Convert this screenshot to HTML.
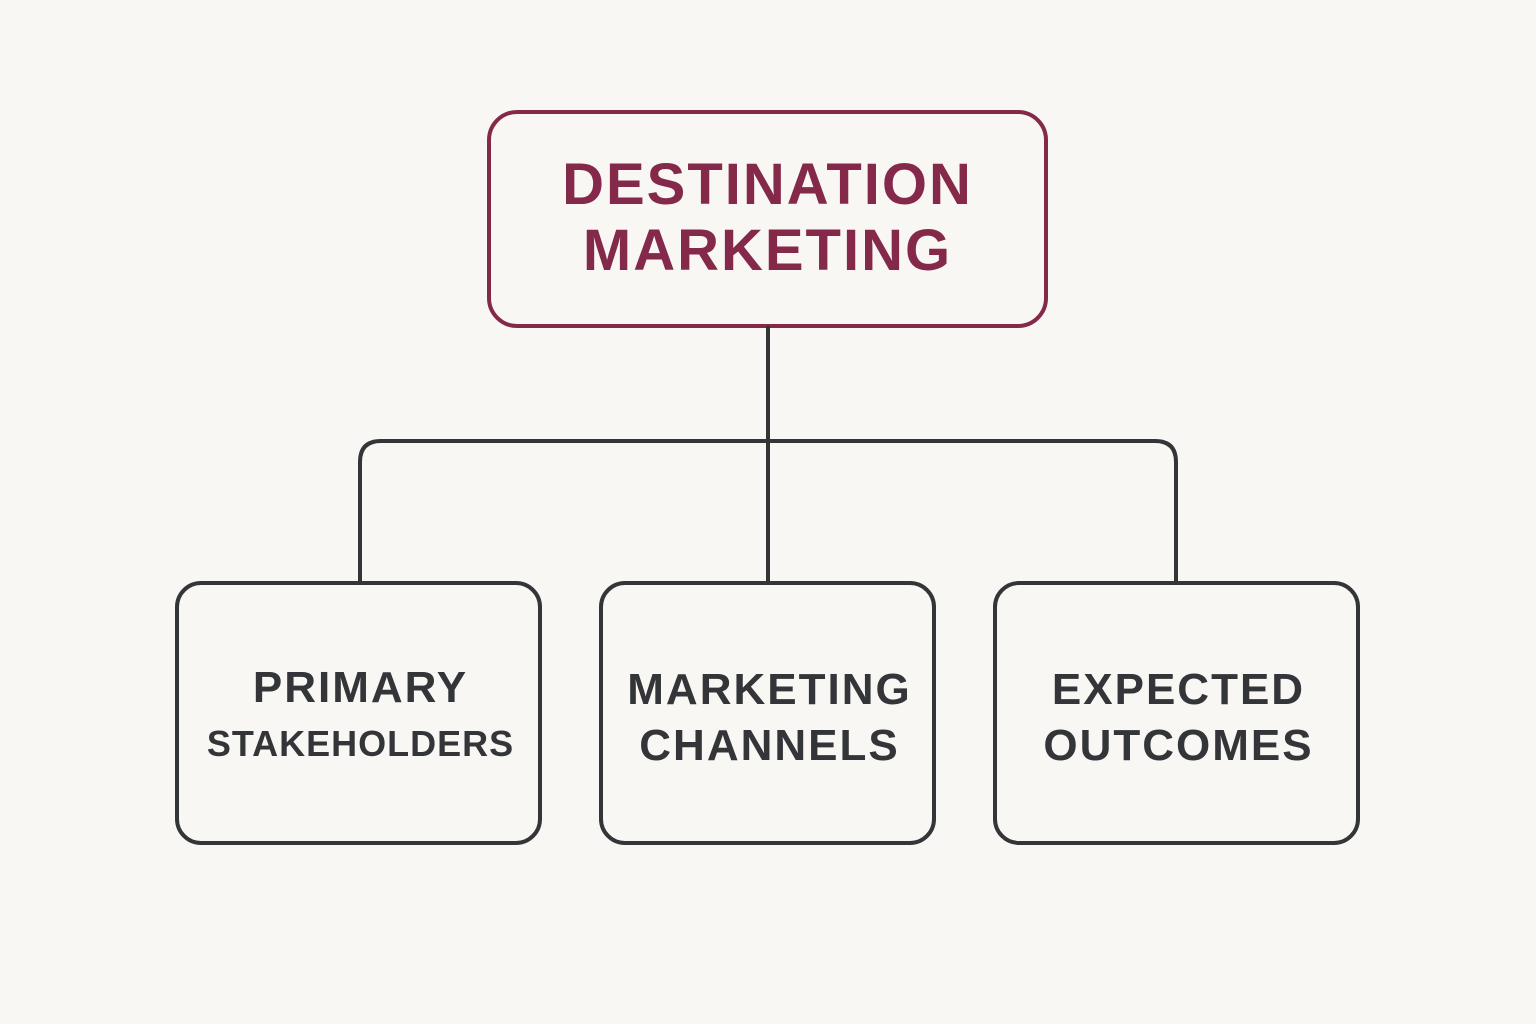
<!DOCTYPE html>
<html><head><style>
html,body{margin:0;padding:0;background:#f9f7f3;}
body{width:1536px;height:1024px;position:relative;overflow:hidden;font-family:"Liberation Sans",sans-serif;font-weight:bold;}
.t{position:absolute;text-align:center;letter-spacing:2px;}
</style></head><body>
<svg width="1536" height="1024" style="position:absolute;left:0;top:0">
<rect x="489" y="112" width="557" height="214" rx="28" fill="none" stroke="#84294a" stroke-width="4"/>
<g fill="none" stroke="#333539" stroke-width="4">
<path d="M768 326 V582"/>
<path d="M360 582 V462 Q360 441 381 441 H1155 Q1176 441 1176 462 V582"/>
<rect x="177" y="583" width="363" height="260" rx="24"/>
<rect x="601" y="583" width="333" height="260" rx="24"/>
<rect x="995" y="583" width="363" height="260" rx="24"/>
</g>
</svg>
<div class="t" style="left:489px;width:557px;top:152px;font-size:58px;line-height:66px;color:#84294a;">DESTINATION<br>MARKETING</div>
<div class="t" style="left:177px;width:367px;top:662px;font-size:44px;line-height:52px;color:#333539;">PRIMARY</div>
<div class="t" style="left:177px;width:367px;top:722px;font-size:36px;line-height:44px;color:#333539;letter-spacing:1px;">STAKEHOLDERS</div>
<div class="t" style="left:601px;width:337px;top:662px;font-size:44px;line-height:56px;color:#333539;">MARKETING<br>CHANNELS</div>
<div class="t" style="left:995px;width:367px;top:662px;font-size:44px;line-height:56px;color:#333539;">EXPECTED<br>OUTCOMES</div>
</body></html>
